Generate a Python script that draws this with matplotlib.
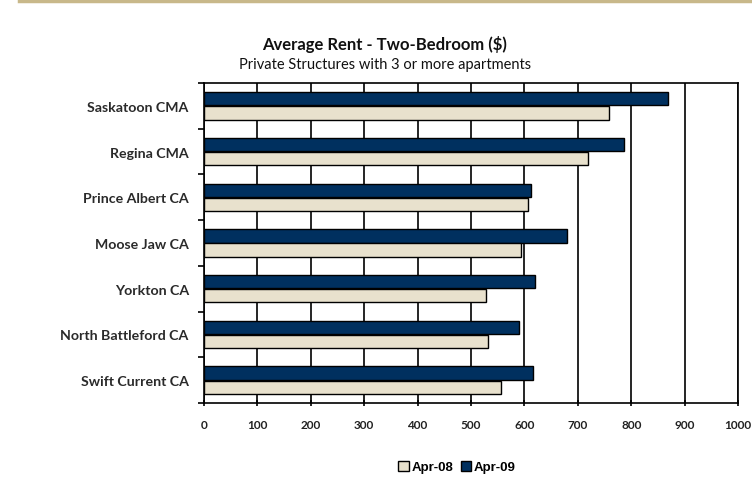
import matplotlib
matplotlib.use("Agg")
import matplotlib.pyplot as plt
import numpy as np
from matplotlib.lines import Line2D
from matplotlib.patches import Patch

categories = ["Saskatoon CMA", "Regina CMA", "Prince Albert CA", "Moose Jaw CA",
              "Yorkton CA", "North Battleford CA", "Swift Current CA"]
apr08 = [758, 720, 607, 594, 528, 532, 557]
apr09 = [868, 787, 612, 679, 620, 590, 616]
xticks = [0, 100, 200, 300, 400, 500, 600, 700, 800, 900, 1000]

plt.rcParams['font.family'] = ['Lato', 'DejaVu Sans']

fig = plt.figure(figsize=(7.52, 4.81), dpi=100)
ax = fig.add_axes([204/752, 1-404/481, 534/752, 320/481])

n = len(categories)
y = np.arange(n)[::-1].astype(float)  # top category highest
off = 0.155
h = 0.29
navy = "#00305F"
beige = "#E8E1CD"

ax.set_axisbelow(True)
ax.barh(y + off, apr09, height=h, color=navy, edgecolor="black", linewidth=1.0, zorder=3)
ax.barh(y - off, apr08, height=h, color=beige, edgecolor="black", linewidth=1.0, zorder=3)

ax.set_xlim(0, 1000)
ax.set_ylim(-0.5, n - 0.5)
ax.set_xticks(xticks)
ax.set_xticklabels([str(t) for t in xticks], fontsize=8.5, fontweight="bold", color="#222222")
ax.xaxis.grid(True, color="black", linewidth=1.2, zorder=0)
ax.set_yticks(y)
ax.set_yticklabels(categories, fontsize=10.2, fontweight="bold", color="#2a2a2a")
ax.tick_params(axis="y", length=0, pad=11)
ax.set_yticks(np.arange(n + 1) - 0.5, minor=True)
ax.tick_params(axis="y", which="minor", length=4, width=1.2, direction="out")
ax.tick_params(axis="x", length=5, width=1.2, direction="inout", pad=9)
for s in ax.spines.values():
    s.set_linewidth(1.2)
    s.set_color("black")

# Title
fig.text(385/752, 1-45/481, "Average Rent - Two-Bedroom ($)", ha="center", va="center",
         fontsize=12, fontweight="bold", color="#111111")
fig.text(385/752, 1-65/481, "Private Structures with 3 or more apartments", ha="center", va="center",
         fontsize=10.5, color="#111111")

# Top rule
fig.add_artist(Line2D([19/752, 1.0], [1-1.5/481, 1-1.5/481], color="#C8B88A", linewidth=2.5))

handles = [Patch(facecolor=beige, edgecolor="black", linewidth=1.0, label="Apr-08"),
           Patch(facecolor=navy, edgecolor="black", linewidth=1.0, label="Apr-09")]
fig.legend(handles=handles, loc="center", bbox_to_anchor=(457/752, 1-468/481), ncol=2,
           frameon=False, prop={"size": 9.5, "weight": "bold", "family": ["Liberation Sans", "DejaVu Sans"]},
           handlelength=0.8, handleheight=0.8, handletextpad=0.2, columnspacing=0.6)

fig.savefig("out.png", dpi=100)
